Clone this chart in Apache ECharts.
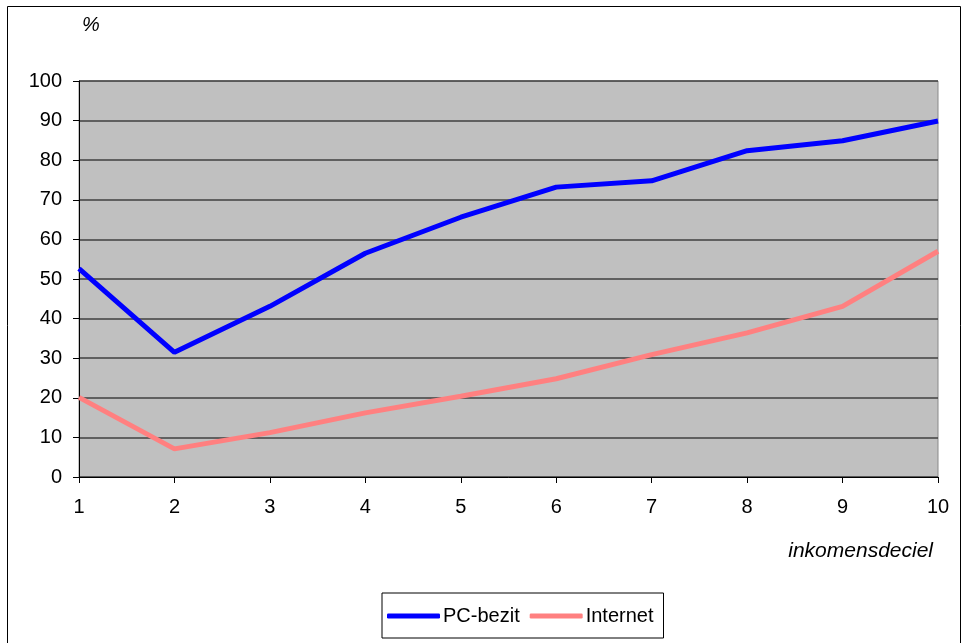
<!DOCTYPE html>
<html><head><meta charset="utf-8">
<script src="https://cdn.jsdelivr.net/npm/echarts@6/dist/echarts.min.js"></script>
<style>html,body{margin:0;padding:0;background:#fff}#c{width:963px;height:643px}</style>
</head><body><div id="c"></div>
<script>
const categories = ['1','2','3','4','5','6','7','8','9','10'];
const pcBezit = [52.6, 31.5, 43.1, 56.5, 65.6, 73.2, 74.8, 82.4, 84.9, 89.9];
const internet = [20.1, 7.1, 11.2, 16.2, 20.4, 24.8, 30.9, 36.4, 43.1, 57.0];
const yTicks = {min: 0, max: 100, interval: 10};
const font = 'Liberation Sans, Arial, sans-serif';

const chart = echarts.init(document.getElementById('c'), null, {renderer: 'canvas'});
chart.setOption({
  animation: false,
  backgroundColor: '#fff',
  textStyle: {fontFamily: font},
  grid: {left: 79, right: 25, top: 81, bottom: 166, show: true, backgroundColor: '#C0C0C0', borderColor: '#8a8a8a', borderWidth: 1},
  graphic: [
    {type: 'rect', shape: {x: 7.5, y: 6.5, width: 953, height: 660}, style: {fill: 'none', stroke: '#000', lineWidth: 1}, silent: true},
    {type: 'text', left: 82, top: 15, style: {text: '%', font: 'italic 20px ' + font, fill: '#000'}},
    {type: 'text', right: 30, top: 541, style: {text: 'inkomensdeciel', font: 'italic 21px ' + font, fill: '#000'}}
  ],
  legend: {
    left: 382, top: 593, orient: 'horizontal',
    itemWidth: 53, itemHeight: 5, itemGap: 10, icon: 'roundRect',
    padding: [13, 10, 12, 5],
    borderColor: '#000', borderWidth: 1, backgroundColor: '#fff',
    textStyle: {fontSize: 20, color: '#000', fontFamily: font, padding: [0, 0, 0, -2]},
    data: ['PC-bezit', 'Internet']
  },
  xAxis: {
    type: 'category', data: categories, boundaryGap: false,
    axisLine: {lineStyle: {color: '#000', width: 1}},
    axisTick: {show: true, length: 6, inside: false, lineStyle: {color: '#000'}},
    axisLabel: {fontSize: 20, color: '#000', margin: 20},
    splitLine: {show: false}
  },
  yAxis: {
    type: 'value', min: yTicks.min, max: yTicks.max, interval: yTicks.interval,
    axisLine: {show: true, lineStyle: {color: '#000', width: 1}},
    axisTick: {show: true, length: 6, lineStyle: {color: '#000'}},
    axisLabel: {fontSize: 20, color: '#000', margin: 17},
    splitLine: {show: true, lineStyle: {color: '#404040', width: 1.5}}
  },
  series: [
    {name: 'PC-bezit', type: 'line', data: pcBezit, showSymbol: false, symbol: 'none', lineStyle: {color: '#0000FF', width: 5}, itemStyle: {color: '#0000FF'}},
    {name: 'Internet', type: 'line', data: internet, showSymbol: false, symbol: 'none', lineStyle: {color: '#FF8080', width: 5}, itemStyle: {color: '#FF8080'}}
  ]
});
</script></body></html>
